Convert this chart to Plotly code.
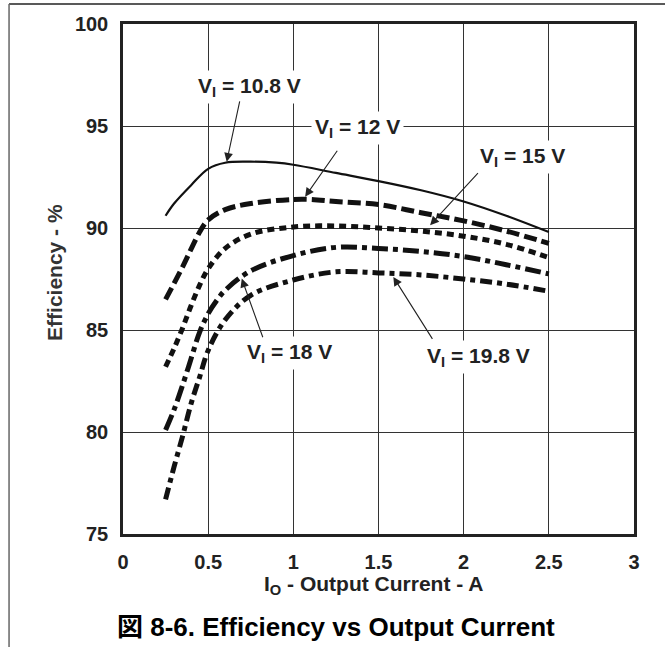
import plotly.graph_objects as go

# ---- data ----
x_108 = [0.25, 0.30, 0.40, 0.50, 0.60, 0.75, 0.90, 1.00, 1.25, 1.50, 1.75, 2.00, 2.25, 2.50]
y_108 = [90.6, 91.2, 92.1, 92.9, 93.2, 93.25, 93.2, 93.1, 92.7, 92.3, 91.85, 91.3, 90.6, 89.8]

x_12 = [0.25, 0.35, 0.45, 0.50, 0.60, 0.75, 1.00, 1.10, 1.25, 1.50, 1.75, 2.00, 2.25, 2.50]
y_12 = [86.5, 88.1, 89.8, 90.4, 90.9, 91.2, 91.4, 91.4, 91.3, 91.15, 90.75, 90.35, 89.85, 89.25]

x_15 = [0.25, 0.30, 0.35, 0.40, 0.45, 0.50, 0.60, 0.75, 1.00, 1.25, 1.50, 1.75, 2.00, 2.25, 2.50]
y_15 = [83.2, 84.1, 85.1, 86.2, 87.2, 88.0, 89.0, 89.7, 90.05, 90.1, 90.0, 89.85, 89.6, 89.2, 88.55]

x_18 = [0.25, 0.30, 0.35, 0.40, 0.45, 0.50, 0.55, 0.60, 0.75, 1.00, 1.25, 1.50, 1.75, 2.00, 2.25, 2.50]
y_18 = [80.1, 81.1, 82.3, 83.6, 84.9, 85.8, 86.45, 86.95, 87.9, 88.65, 89.05, 89.0, 88.85, 88.6, 88.2, 87.75]

x_198 = [0.25, 0.30, 0.35, 0.40, 0.45, 0.50, 0.60, 0.75, 1.00, 1.25, 1.50, 1.75, 2.00, 2.25, 2.50]
y_198 = [76.7, 78.3, 79.8, 81.4, 82.7, 84.0, 85.5, 86.7, 87.45, 87.85, 87.8, 87.7, 87.5, 87.25, 86.9]

series_names = ["VI = 10.8 V", "VI = 12 V", "VI = 15 V", "VI = 18 V", "VI = 19.8 V"]
label_texts = ["V<sub>I</sub> = 10.8 V", "V<sub>I</sub> = 12 V", "V<sub>I</sub> = 15 V",
               "V<sub>I</sub> = 18 V", "V<sub>I</sub> = 19.8 V"]
# label centre positions (data units)
label_x = [0.74, 1.377, 2.346, 0.975, 2.085]
label_y = [96.92, 94.89, 93.49, 83.86, 83.67]
# arrow tail / head (data units)
arrow_tail_x = [0.687, 1.264, 2.092, 0.824, 1.822]
arrow_tail_y = [96.28, 93.86, 92.76, 84.57, 84.49]
arrow_head_x = [0.609, 1.069, 1.803, 0.697, 1.587]
arrow_head_y = [93.25, 91.53, 90.14, 87.52, 87.60]

x_ticks = [0, 0.5, 1, 1.5, 2, 2.5, 3]
y_ticks = [75, 80, 85, 90, 95, 100]

x_title = "I<sub>O</sub> - Output Current - A"
y_title = "Efficiency - %"
caption = "図 8-6. Efficiency vs Output Current"

# ---- styles ----
FONT = "Liberation Sans, Arial, Noto Sans CJK JP, sans-serif"
INK = "#111111"
styles = [
    dict(width=2.2, dash="solid"),
    dict(width=5, dash="13px,5px"),
    dict(width=5, dash="7px,5px"),
    dict(width=5, dash="16px,5px,5px,5px"),
    dict(width=5, dash="12px,5px,5px,5px"),
]

xs = [x_108, x_12, x_15, x_18, x_198]
ys = [y_108, y_12, y_15, y_18, y_198]

fig = go.Figure()
for name, xv, yv, st in zip(series_names, xs, ys, styles):
    fig.add_trace(go.Scatter(
        x=xv, y=yv, mode="lines", name=name,
        line=dict(color=INK, width=st["width"], dash=st["dash"], shape="spline", smoothing=1.0),
        showlegend=False, hoverinfo="skip",
    ))

annotations = []
for t, lx, ly in zip(label_texts, label_x, label_y):
    annotations.append(dict(
        x=lx, y=ly, xref="x", yref="y", text="<b>" + t + "</b>", showarrow=False,
        font=dict(family=FONT, size=21, color="#222222"),
        bgcolor="white", borderpad=3,
    ))
for tx, ty, hx, hy in zip(arrow_tail_x, arrow_tail_y, arrow_head_x, arrow_head_y):
    annotations.append(dict(
        x=hx, y=hy, ax=tx, ay=ty, xref="x", yref="y", axref="x", ayref="y",
        text="", showarrow=True, arrowhead=2, arrowsize=1.6, arrowwidth=1.1,
        arrowcolor="#222222", standoff=0, startstandoff=0,
    ))

annotations.append(dict(
    x=-0.133, y=0.512, xref="paper", yref="paper", text="<b>" + y_title + "</b>",
    textangle=-90, showarrow=False, font=dict(family=FONT, size=21, color="#333333"),
    xanchor="center", yanchor="middle",
))
annotations.append(dict(
    x=0.49, y=-0.1, xref="paper", yref="paper", text="<b>" + x_title + "</b>",
    showarrow=False, font=dict(family=FONT, size=21, color="#222222"),
    xanchor="center", yanchor="middle",
))
annotations.append(dict(
    x=0.417, y=-0.182, xref="paper", yref="paper", text="<b>" + caption + "</b>",
    showarrow=False, font=dict(family=FONT, size=26, color="#000000"),
    xanchor="center", yanchor="middle",
))

shapes = [
    dict(type="line", xref="paper", yref="paper", x0=-0.223, x1=1.07, y0=1.039, y1=1.039,
         line=dict(color="#222222", width=1.5)),
    dict(type="line", xref="paper", yref="paper", x0=-0.223, x1=-0.223, y0=1.039, y1=-0.25,
         line=dict(color="#666666", width=1.5)),
]

fig.update_layout(
    width=665, height=647,
    margin=dict(l=123, r=31, t=24, b=113),
    paper_bgcolor="white", plot_bgcolor="white",
    annotations=annotations, shapes=shapes,
    font=dict(family=FONT, color="#222222"),
)
fig.update_xaxes(
    range=[0, 3], tickvals=x_ticks, ticktext=[f"<b>{v:g}</b>" for v in x_ticks],
    showgrid=True, gridcolor="#333333", gridwidth=1,
    showline=True, linecolor="#222222", linewidth=2.5, mirror=True,
    ticks="", ticklabelstandoff=8, zeroline=False,
    tickfont=dict(family=FONT, size=20, color="#222222"),
)
fig.update_yaxes(
    range=[75, 100], tickvals=y_ticks, ticktext=[f"<b>{v:g}</b>" for v in y_ticks],
    showgrid=True, gridcolor="#333333", gridwidth=1,
    showline=True, linecolor="#222222", linewidth=2.5, mirror=True,
    ticks="", ticklabelstandoff=8, zeroline=False,
    tickfont=dict(family=FONT, size=20, color="#222222"),
)

fig.write_html(
    "out.html",
    config={"displayModeBar": False},
    post_script="document.body.style.margin='0';document.body.style.padding='0';"
                "document.body.style.overflow='hidden';",
)
